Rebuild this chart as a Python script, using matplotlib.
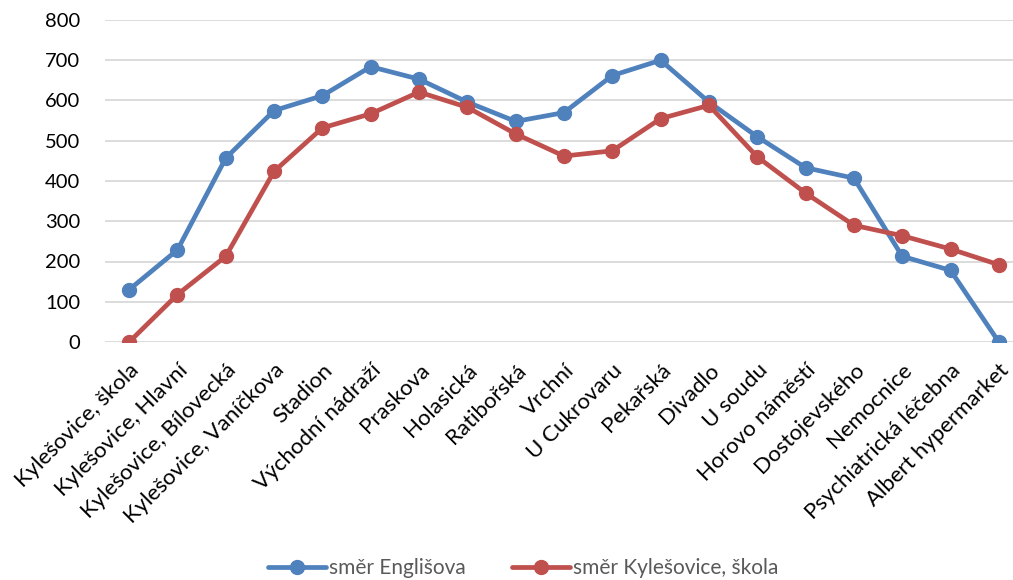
import matplotlib
matplotlib.use("Agg")
import matplotlib.pyplot as plt

categories = ["Kylešovice, škola", "Kylešovice, Hlavní", "Kylešovice, Bílovecká",
              "Kylešovice, Vaníčkova", "Stadion", "Východní nádraží", "Praskova",
              "Holasická", "Ratibořská", "Vrchní", "U Cukrovaru", "Pekařská",
              "Divadlo", "U soudu", "Horovo náměstí", "Dostojevského", "Nemocnice",
              "Psychiatrická léčebna", "Albert hypermarket"]
englisova = [130, 229, 457, 575, 612, 684, 653, 596, 548, 570, 662, 700,
             596, 510, 433, 407, 213, 178, 0]
kylesovice = [0, 118, 213, 424, 532, 567, 621, 583, 517, 462, 475, 555,
              588, 460, 370, 290, 264, 231, 192]
series_names = ["směr Englišova", "směr Kylešovice, škola"]
yticks = [0, 100, 200, 300, 400, 500, 600, 700, 800]

plt.rcParams['font.family'] = ['Lato', 'DejaVu Sans']

W, H = 1013, 580
fig = plt.figure(figsize=(W / 100, H / 100), dpi=100)
ax = fig.add_axes([105 / W, 1 - 342 / H, 918 / W, 322 / H])

x = list(range(len(categories)))
ax.plot(x, englisova, color="#4F81BD", lw=3.4, marker="o", ms=10, label=series_names[0],
        solid_capstyle="round", zorder=3)
ax.plot(x, kylesovice, color="#C0504D", lw=3.4, marker="o", ms=10, label=series_names[1],
        solid_capstyle="round", zorder=3)

ax.set_xlim(-0.5, len(categories) - 0.5)
ax.set_ylim(0, 800)
ax.set_yticks(yticks)
ax.set_yticklabels([str(v) for v in yticks], fontsize=14.5, color="#000000")
ax.set_xticks(x)
ax.set_xticklabels(categories, rotation=45, ha="right", rotation_mode="anchor",
                   fontsize=16, color="#000000")
ax.tick_params(axis="both", length=0)
ax.tick_params(axis="y", pad=18)
ax.tick_params(axis="x", pad=13)
ax.yaxis.grid(True, color="#D9D9D9", lw=1.3)
ax.set_axisbelow(True)
for s in ax.spines.values():
    s.set_visible(False)

leg = ax.legend(loc="center", bbox_to_anchor=(523 / W, 1 - 568 / H),
                bbox_transform=fig.transFigure, ncol=2, frameon=False,
                fontsize=15, handlelength=2.8, handletextpad=0.15, columnspacing=2.2)
for t in leg.get_texts():
    t.set_color("#595959")

fig.savefig("out.png", dpi=100)
